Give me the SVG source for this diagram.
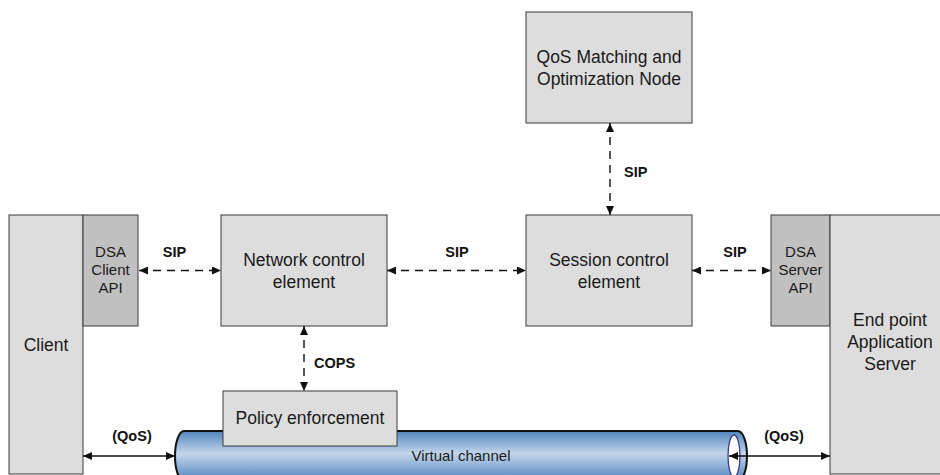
<svg xmlns="http://www.w3.org/2000/svg" width="940" height="475" viewBox="0 0 940 475">
  <style>
    .box { fill: #dddddd; stroke: #3a3a3a; stroke-width: 1; }
    .api { fill: #c0c0c0; stroke: #3a3a3a; stroke-width: 1; }
    .label { font-family: "Liberation Sans", Arial, sans-serif; font-size: 17.5px; fill: #1a1a1a; text-anchor: middle; }
    .small { font-family: "Liberation Sans", Arial, sans-serif; font-size: 15px; fill: #1a1a1a; text-anchor: middle; }
    .proto { font-family: "Liberation Sans", Arial, sans-serif; font-size: 14.5px; font-weight: bold; fill: #111; text-anchor: middle; }
    .dash { fill: none; stroke: #111; stroke-width: 1.4; stroke-dasharray: 8 6; marker-start: url(#head); marker-end: url(#head); }
    .solid { fill: none; stroke: #111; stroke-width: 1.4; marker-start: url(#head); marker-end: url(#head); }
  </style>
  <defs>
    <marker id="head" viewBox="0 0 10 10" refX="10" refY="5" markerWidth="9" markerHeight="8" markerUnits="userSpaceOnUse" orient="auto-start-reverse" preserveAspectRatio="none">
      <path d="M0,0 L10,5 L0,10 Z" fill="#111"/>
    </marker>
    <linearGradient id="tubeFill" x1="0" y1="0" x2="0" y2="1">
      <stop offset="0" stop-color="#4f85bd"/>
      <stop offset="0.45" stop-color="#c3d5eb"/>
      <stop offset="1" stop-color="#4f85bd"/>
    </linearGradient>
  </defs>

  <rect width="940" height="475" fill="#ffffff"/>

  <!-- virtual channel tube -->
  <g id="virtual-channel">
    <path d="M184,431 H738 A9,25 0 0 1 738,481 H184 A9,25 0 0 1 184,431 Z" fill="url(#tubeFill)" stroke="#111" stroke-width="2"/>
    <ellipse cx="734" cy="456" rx="6" ry="21" fill="#ffffff" stroke="#3c3c8c" stroke-width="1.3"/>
    <text class="small" x="461" y="461">Virtual channel</text>
  </g>

  <g id="client">
    <rect class="box" x="9" y="215" width="74" height="259"/>
    <text class="label" x="46" y="351">Client</text>
  </g>

  <g id="dsa-client-api">
    <rect class="api" x="83" y="215" width="55" height="111"/>
    <text class="small" x="110.5" y="257">DSA</text>
    <text class="small" x="110.5" y="275">Client</text>
    <text class="small" x="110.5" y="293">API</text>
  </g>

  <g id="network-control">
    <rect class="box" x="221" y="215" width="166" height="111"/>
    <text class="label" x="304" y="266">Network control</text>
    <text class="label" x="304" y="288">element</text>
  </g>

  <g id="session-control">
    <rect class="box" x="526" y="215" width="166" height="111"/>
    <text class="label" x="609" y="266">Session control</text>
    <text class="label" x="609" y="288">element</text>
  </g>

  <g id="qos-node">
    <rect class="box" x="526" y="12" width="166" height="111"/>
    <text class="label" x="609" y="63">QoS Matching and</text>
    <text class="label" x="609" y="85">Optimization Node</text>
  </g>

  <g id="dsa-server-api">
    <rect class="api" x="771" y="215" width="59" height="111"/>
    <text class="small" x="800.5" y="257">DSA</text>
    <text class="small" x="800.5" y="275">Server</text>
    <text class="small" x="800.5" y="293">API</text>
  </g>

  <g id="application-server">
    <rect class="box" x="830" y="215" width="120" height="259"/>
    <text class="label" x="890" y="326">End point</text>
    <text class="label" x="890" y="348">Application</text>
    <text class="label" x="890" y="370">Server</text>
  </g>

  <g id="policy-enforcement">
    <rect class="box" x="223" y="391" width="174" height="55"/>
    <text class="label" x="310" y="424">Policy enforcement</text>
  </g>

  <!-- signalling and data connectors -->
  <g id="connectors">
    <line class="dash" x1="139" y1="270.5" x2="221" y2="270.5"/>
    <line class="dash" x1="387" y1="270.5" x2="526" y2="270.5"/>
    <line class="dash" x1="692" y1="270.5" x2="771" y2="270.5"/>
    <line class="dash" x1="610" y1="123" x2="610" y2="215"/>
    <line class="dash" x1="304" y1="326" x2="304" y2="391"/>
    <line class="solid" x1="83" y1="456" x2="175" y2="456"/>
    <line class="solid" x1="729" y1="456" x2="830" y2="456"/>

    <text class="proto" x="174.5" y="257">SIP</text>
    <text class="proto" x="457" y="257">SIP</text>
    <text class="proto" x="735" y="257">SIP</text>
    <text class="proto" x="624" y="177" style="text-anchor:start">SIP</text>
    <text class="proto" x="314" y="368" style="text-anchor:start">COPS</text>
    <text class="proto" x="132" y="441">(QoS)</text>
    <text class="proto" x="784" y="441">(QoS)</text>
  </g>
</svg>
